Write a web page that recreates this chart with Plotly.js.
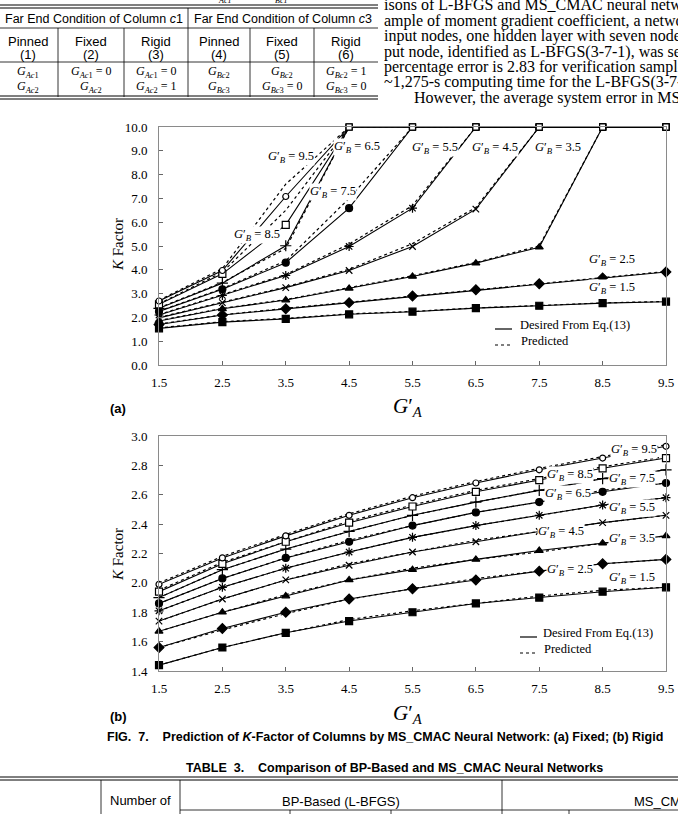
<!DOCTYPE html>
<html><head><meta charset="utf-8">
<script src="https://cdn.plot.ly/plotly-3.0.1.min.js"></script>
<style>html,body{margin:0;padding:0;background:#fff;overflow:hidden}#chart{width:678px;height:814px}</style>
</head><body><div id="chart"></div>
<script>
// ---------- data ----------
const gA = [1.5, 2.5, 3.5, 4.5, 5.5, 6.5, 7.5, 8.5, 9.5];
const gATicks = ['1.5', '2.5', '3.5', '4.5', '5.5', '6.5', '7.5', '8.5', '9.5'];
const gBValues = ['1.5', '2.5', '3.5', '4.5', '5.5', '6.5', '7.5', '8.5', '9.5'];

// (a) Fixed — desired (Eq.13)
const fixDes15 = [1.54, 1.80, 1.94, 2.13, 2.24, 2.39, 2.49, 2.60, 2.66];
const fixDes25 = [1.70, 2.10, 2.36, 2.62, 2.90, 3.16, 3.41, 3.66, 3.91];
const fixDes35 = [1.85, 2.36, 2.73, 3.22, 3.72, 4.28, 4.95, 10, 10];
const fixDes45 = [1.98, 2.62, 3.25, 3.97, 4.98, 6.55, 10, 10, 10];
const fixDes55 = [2.10, 2.92, 3.76, 4.98, 6.59, 10, 10, 10, 10];
const fixDes65 = [2.25, 3.18, 4.30, 6.59, 10, 10, 10, 10, 10];
const fixDes75 = [2.38, 3.44, 5.01, 10, 10, 10, 10, 10, 10];
const fixDes85 = [2.55, 3.83, 5.89, 10, 10, 10, 10, 10, 10];
const fixDes95 = [2.69, 3.97, 7.08, 10, 10, 10, 10, 10, 10];
// (a) Fixed — predicted
const fixPre15 = [1.56, 1.82, 1.96, 2.15, 2.25, 2.40, 2.50, 2.61, 2.67];
const fixPre25 = [1.72, 2.11, 2.38, 2.64, 2.92, 3.18, 3.43, 3.68, 3.93];
const fixPre35 = [1.87, 2.38, 2.75, 3.24, 3.75, 4.31, 5.00, 10, 10];
const fixPre45 = [2.00, 2.64, 3.28, 4.02, 5.10, 6.62, 10, 10, 10];
const fixPre55 = [2.12, 2.95, 3.80, 5.08, 6.70, 10, 10, 10, 10];
const fixPre65 = [2.27, 3.21, 4.38, 7.00, 10, 10, 10, 10, 10];
const fixPre75 = [2.40, 3.47, 4.90, 10, 10, 10, 10, 10, 10];
const fixPre85 = [2.57, 3.90, 6.50, 10, 10, 10, 10, 10, 10];
const fixPre95 = [2.72, 4.05, 7.60, 10, 10, 10, 10, 10, 10];

// (b) Rigid — desired (Eq.13)
const rigDes15 = [1.44, 1.56, 1.66, 1.74, 1.80, 1.86, 1.90, 1.94, 1.97];
const rigDes25 = [1.56, 1.69, 1.80, 1.89, 1.96, 2.02, 2.08, 2.13, 2.16];
const rigDes35 = [1.67, 1.80, 1.91, 2.02, 2.09, 2.16, 2.22, 2.27, 2.32];
const rigDes45 = [1.74, 1.89, 2.02, 2.12, 2.21, 2.28, 2.35, 2.41, 2.46];
const rigDes55 = [1.81, 1.97, 2.10, 2.21, 2.31, 2.39, 2.46, 2.53, 2.58];
const rigDes65 = [1.86, 2.03, 2.17, 2.28, 2.39, 2.48, 2.55, 2.62, 2.68];
const rigDes75 = [1.90, 2.09, 2.23, 2.35, 2.46, 2.55, 2.63, 2.71, 2.77];
const rigDes85 = [1.94, 2.13, 2.28, 2.41, 2.52, 2.62, 2.70, 2.78, 2.85];
const rigDes95 = [1.99, 2.17, 2.32, 2.46, 2.58, 2.68, 2.77, 2.85, 2.93];
// (b) Rigid — predicted
const rigPre15 = [1.44, 1.56, 1.66, 1.75, 1.81, 1.86, 1.91, 1.95, 1.97];
const rigPre25 = [1.56, 1.68, 1.79, 1.89, 1.96, 2.03, 2.08, 2.13, 2.16];
const rigPre35 = [1.67, 1.80, 1.92, 2.02, 2.10, 2.16, 2.21, 2.27, 2.32];
const rigPre45 = [1.74, 1.89, 2.02, 2.13, 2.21, 2.29, 2.35, 2.41, 2.46];
const rigPre55 = [1.81, 1.97, 2.10, 2.21, 2.31, 2.39, 2.46, 2.53, 2.58];
const rigPre65 = [1.86, 2.03, 2.17, 2.29, 2.39, 2.48, 2.55, 2.63, 2.68];
const rigPre75 = [1.90, 2.09, 2.23, 2.35, 2.46, 2.55, 2.63, 2.71, 2.77];
const rigPre85 = [1.95, 2.14, 2.28, 2.42, 2.53, 2.63, 2.71, 2.79, 2.86];
const rigPre95 = [2.00, 2.18, 2.33, 2.47, 2.59, 2.69, 2.78, 2.86, 2.94];

const fixDes = [fixDes15, fixDes25, fixDes35, fixDes45, fixDes55, fixDes65, fixDes75, fixDes85, fixDes95];
const fixPre = [fixPre15, fixPre25, fixPre35, fixPre45, fixPre55, fixPre65, fixPre75, fixPre85, fixPre95];
const rigDes = [rigDes15, rigDes25, rigDes35, rigDes45, rigDes55, rigDes65, rigDes75, rigDes85, rigDes95];
const rigPre = [rigPre15, rigPre25, rigPre35, rigPre45, rigPre55, rigPre65, rigPre75, rigPre85, rigPre95];

// ---------- styles ----------
const W = 678, H = 814;
const px = v => v / W, py = v => 1 - v / H;
const SERIF = 'Liberation Serif, Times New Roman, serif';
const SANS = 'Liberation Sans, Arial, sans-serif';
const INK = '#000';
const mk = [
  {symbol: 'square', size: 7, color: INK},
  {symbol: 'diamond', size: 7.5, color: INK},
  {symbol: 'triangle-up', size: 7, color: INK},
  {symbol: 'x-thin', size: 6.5, color: INK},
  {symbol: 'asterisk', size: 7.5, color: INK},
  {symbol: 'circle', size: 7, color: INK},
  {symbol: 'cross-thin', size: 8, color: INK},
  {symbol: 'square', size: 7, color: 'white'},
  {symbol: 'circle', size: 6, color: 'white'}
];

const traces = [];
function addSeries(desArr, preArr, xa, ya, capped) {
  preArr.forEach(vals => traces.push({
    x: gA, y: vals, xaxis: xa, yaxis: ya, mode: 'lines', type: 'scatter',
    line: {color: INK, width: 1.2, dash: 'dot'}, hoverinfo: 'skip', showlegend: false, cliponaxis: false
  }));
  desArr.forEach((vals, i) => {
    const s = mk[i];
    const sym = vals.map(v => capped && v >= 10 ? 'square' : s.symbol);
    const col = vals.map(v => capped && v >= 10 ? 'white' : s.color);
    const sz = vals.map(v => capped && v >= 10 ? 6 : s.size);
    traces.push({
      x: gA, y: vals, xaxis: xa, yaxis: ya, mode: 'lines+markers', type: 'scatter',
      line: {color: INK, width: 1.1},
      marker: {symbol: sym, color: col, size: sz, opacity: 1, line: {color: INK, width: 1.2}},
      hoverinfo: 'skip', showlegend: false, cliponaxis: false
    });
  });
}
addSeries(fixDes, fixPre, 'x', 'y', true);
addSeries(rigDes, rigPre, 'x2', 'y2', false);

const axBase = {
  showgrid: false, zeroline: false, showline: true, mirror: true,
  linecolor: '#8a8a8a', linewidth: 1, ticks: 'inside', ticklen: 4, tickcolor: '#666',
  tickfont: {family: SERIF, size: 13, color: INK}, fixedrange: true
};
const xDom = [px(159), px(666)];
const layout = {
  width: W, height: H, margin: {l: 0, r: 0, t: 0, b: 0},
  paper_bgcolor: 'white', plot_bgcolor: 'white', showlegend: false,
  xaxis: Object.assign({}, axBase, {domain: xDom, anchor: 'y', range: [1.5, 9.5], tickvals: gA, ticktext: gATicks, ticklabelstandoff: 5}),
  yaxis: Object.assign({}, axBase, {domain: [py(365), py(127)], anchor: 'x', range: [0, 10], dtick: 1, tickformat: '.1f', ticklabelstandoff: 8}),
  xaxis2: Object.assign({}, axBase, {domain: xDom, anchor: 'y2', range: [1.5, 9.5], tickvals: gA, ticktext: gATicks, ticklabelstandoff: 5}),
  yaxis2: Object.assign({}, axBase, {domain: [py(671), py(436)], anchor: 'x2', range: [1.4, 3.0], dtick: 0.2, tickformat: '.1f', ticklabelstandoff: 8}),
  annotations: [], shapes: []
};
const A = layout.annotations, S = layout.shapes;
const gLabel = v => '<i>G</i>′<sub><i>B</i></sub> = ' + v;

const labA = [[8.64, 3.23], [8.64, 4.42], [7.80, 9.12], [6.80, 9.12], [5.86, 9.12], [4.63, 9.14], [4.24, 7.29], [3.04, 5.47], [3.58, 8.76]];
labA.forEach((p, i) => A.push({xref: 'x', yref: 'y', x: p[0], y: p[1], text: gLabel(gBValues[i]), showarrow: false,
  font: {family: SERIF, size: 12.5, color: INK}, bgcolor: 'white', borderpad: 0}));
const labB = [[8.97, 2.03], [7.98, 2.085], [8.97, 2.30], [7.85, 2.349], [8.97, 2.51], [7.95, 2.605], [8.97, 2.706], [7.98, 2.735], [8.99, 2.905]];
labB.forEach((p, i) => A.push({xref: 'x2', yref: 'y2', x: p[0], y: p[1], text: gLabel(gBValues[i]), showarrow: false,
  font: {family: SERIF, size: 12.5, color: INK}, bgcolor: 'white', borderpad: 0}));

function pA(x, y, text, opts) {
  A.push(Object.assign({xref: 'paper', yref: 'paper', x: px(x), y: py(y), text: text, showarrow: false,
    xanchor: 'center', yanchor: 'middle', font: {family: SERIF, size: 13, color: INK}}, opts || {}));
}
function ln(x0, y0, x1, y1, w, dash, color) {
  S.push({type: 'line', xref: 'paper', yref: 'paper', x0: px(x0), y0: py(y0), x1: px(x1), y1: py(y1),
    line: {color: color || INK, width: w || 1, dash: dash || 'solid'}});
}

// legends (a) and (b)
[[495, 518, 325], [520, 541, 633]].forEach(r => {
  ln(r[0], r[2] + 4, r[0] + 17, r[2] + 4, 1.2);
  ln(r[0], r[2] + 20, r[0] + 17, r[2] + 20, 1.2, 'dot');
  pA(r[1], r[2], 'Desired From Eq.(13)', {xanchor: 'left', font: {family: SERIF, size: 12.5, color: INK}});
  pA(r[1] + 1, r[2] + 16, 'Predicted', {xanchor: 'left', font: {family: SERIF, size: 12.5, color: INK}});
});

// axis titles
pA(118, 245, '<i>K</i> Factor', {textangle: -90, font: {family: SERIF, size: 15, color: INK}});
pA(118, 555, '<i>K</i> Factor', {textangle: -90, font: {family: SERIF, size: 15, color: INK}});
pA(408, 407, '<i>G</i>′<sub><i>A</i></sub>', {font: {family: SERIF, size: 21, color: INK}});
pA(408, 714, '<i>G</i>′<sub><i>A</i></sub>', {font: {family: SERIF, size: 21, color: INK}});
pA(118, 408, '<b>(a)</b>', {font: {family: SANS, size: 13, color: INK}});
pA(118, 716, '<b>(b)</b>', {font: {family: SANS, size: 13, color: INK}});

// caption
pA(385, 737, '<b>FIG.  7.    Prediction of <i>K</i>-Factor of Columns by MS_CMAC Neural Network: (a) Fixed; (b) Rigid</b>',
  {font: {family: SANS, size: 12.5, color: INK}});

// ---------- top table fragment ----------
pA(224, 0, '<i>Ac1</i>', {font: {family: SERIF, size: 8, color: INK}});
pA(281, 0, '<i>Bc1</i>', {font: {family: SERIF, size: 8, color: INK}});
ln(0, 5, 378, 5, 1); ln(0, 8, 378, 8, 1);
pA(94, 19, 'Far End Condition of Column <i>c</i>1', {font: {family: SANS, size: 12.5, color: INK}});
pA(283, 19, 'Far End Condition of Column <i>c</i>3', {font: {family: SANS, size: 12.5, color: INK}});
ln(0, 28, 378, 28, 0.8);
ln(188, 8, 188, 97, 0.8);
[58, 124, 250, 314].forEach(x => ln(x, 28, x, 97, 0.8));
const colC = [28, 91, 156, 219, 282, 346];
const colHead = ['Pinned', 'Fixed', 'Rigid', 'Pinned', 'Fixed', 'Rigid'];
colC.forEach((x, i) => { pA(x, 41, colHead[i], {font: {family: SANS, size: 13, color: INK}});
  pA(x, 54, '(' + (i + 1) + ')', {font: {family: SANS, size: 13, color: INK}}); });
ln(0, 62, 378, 62, 0.8);
const gRow1 = ['<i>G<sub>Ac</sub></i><sub>1</sub>', '<i>G<sub>Ac</sub></i><sub>1</sub> = 0', '<i>G<sub>Ac</sub></i><sub>1</sub> = 0',
  '<i>G<sub>Bc</sub></i><sub>2</sub>', '<i>G<sub>Bc</sub></i><sub>2</sub>', '<i>G<sub>Bc</sub></i><sub>2</sub> = 1'];
const gRow2 = ['<i>G<sub>Ac</sub></i><sub>2</sub>', '<i>G<sub>Ac</sub></i><sub>2</sub>', '<i>G<sub>Ac</sub></i><sub>2</sub> = 1',
  '<i>G<sub>Bc</sub></i><sub>3</sub>', '<i>G<sub>Bc</sub></i><sub>3</sub> = 0', '<i>G<sub>Bc</sub></i><sub>3</sub> = 0'];
colC.forEach((x, i) => { pA(x, 72, gRow1[i], {font: {family: SERIF, size: 12, color: INK}});
  pA(x, 87, gRow2[i], {font: {family: SERIF, size: 12, color: INK}}); });
ln(0, 96, 378, 96, 1); ln(0, 99, 378, 99, 1);

// body text on the right
const body = ['isons of L-BFGS and MS_CMAC neural networks.',
  'ample of moment gradient coefficient, a network',
  'input nodes, one hidden layer with seven nodes',
  'put node, identified as L-BFGS(3-7-1), was selected',
  'percentage error is 2.83 for verification samples',
  '~1,275-s computing time for the L-BFGS(3-7-1)',
  'However, the average system error in MS_CMAC'];
body.forEach((t, i) => pA(i === 6 ? 412 : 382, 5 + i * 15.5, t, {xanchor: 'left', font: {family: SERIF, size: 16, color: INK}}));

// ---------- bottom table fragment ----------
pA(394, 768, '<b>TABLE  3.    Comparison of BP-Based and MS_CMAC Neural Networks</b>', {font: {family: SANS, size: 12.5, color: INK}});
ln(0, 777, 678, 777, 1); ln(0, 780, 678, 780, 1);
[101, 180, 502].forEach(x => ln(x, 780, x, 814, 0.8));
[290, 391, 569].forEach(x => ln(x, 810, x, 814, 0.8));
ln(180, 810, 678, 810, 0.8);
pA(140, 800, 'Number of', {font: {family: SANS, size: 13, color: INK}});
pA(140, 819, 'training', {font: {family: SANS, size: 13, color: INK}});
pA(341, 801, 'BP-Based (L-BFGS)', {font: {family: SANS, size: 13, color: INK}});
pA(632, 801, 'MS_CMAC', {xanchor: 'left', font: {family: SANS, size: 13, color: INK}});
pA(341, 821, 'Average error', {font: {family: SANS, size: 13, color: INK}});
pA(447, 821, 'Computing time', {font: {family: SANS, size: 13, color: INK}});
pA(535, 821, 'Number of', {font: {family: SANS, size: 13, color: INK}});
pA(625, 821, 'Average error', {font: {family: SANS, size: 13, color: INK}});

Plotly.newPlot('chart', traces, layout, {displayModeBar: false, staticPlot: true});
</script></body></html>
